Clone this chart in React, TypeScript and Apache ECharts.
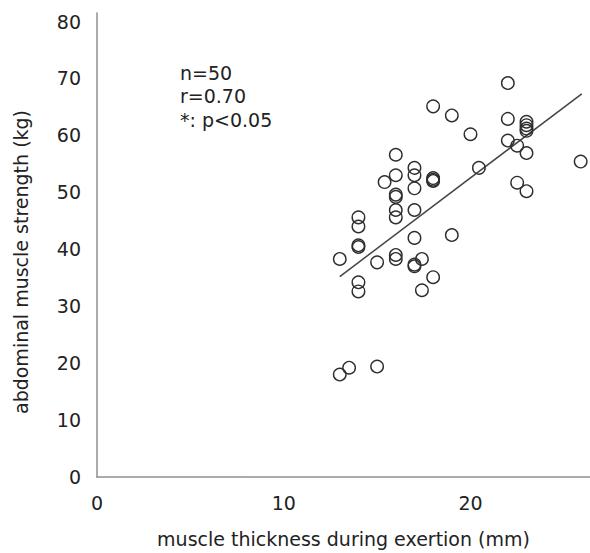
import React, { useEffect, useRef } from "react";
import * as echarts from "echarts";

// muscle thickness during exertion (mm)
const thickness = [
  13, 13, 13.5, 15, 15,
  14, 14, 14, 14, 14, 14,
  15.4,
  16, 16, 16, 16, 16, 16, 16, 16,
  17, 17, 17, 17, 17, 17, 17,
  17.4, 17.4,
  18, 18, 18, 18, 18,
  19, 19,
  20, 20.45,
  22, 22, 22,
  22.5, 22.5,
  23, 23, 23, 23, 23, 23,
  25.9,
];
// abdominal muscle strength (kg)
const strength = [
  38.3, 18.0, 19.2, 19.4, 37.7,
  45.6, 44.0, 40.7, 40.4, 34.2, 32.6,
  51.8,
  56.6, 53.0, 49.6, 49.2, 46.9, 45.6, 39.0, 38.3,
  54.3, 53.0, 50.7, 46.9, 42.0, 37.3, 37.0,
  38.3, 32.8,
  52.5, 52.2, 52.0, 35.1, 65.1,
  63.5, 42.5,
  60.2, 54.3,
  69.2, 62.9, 59.1,
  58.2, 51.7,
  62.4, 61.8, 61.2, 60.8, 56.9, 50.2,
  55.4,
];
// regression line end points
const regressionX = [13, 25.96];
const regressionY = [35.2, 67.3];

const statsLines = ["n=50", "r=0.70", "*: p<0.05"];
const xTitle = "muscle thickness during exertion (mm)";
const yTitle = "abdominal muscle strength (kg)";

const FONT = "DejaVu Sans";

export default function App() {
  const ref = useRef<HTMLDivElement>(null);

  useEffect(() => {
    if (!ref.current) return;
    const chart = echarts.init(ref.current, undefined, { renderer: "svg" });
    const points = thickness.map((x, i) => [x, strength[i]]);
    const line = regressionX.map((x, i) => [x, regressionY[i]]);
    chart.setOption({
      animation: false,
      backgroundColor: "#ffffff",
      grid: { left: 97, top: 13, right: 0, bottom: 75, containLabel: false },
      xAxis: {
        type: "value",
        min: 0,
        max: 26.4,
        interval: 10,
        name: xTitle,
        nameLocation: "middle",
        nameGap: 52,
        nameTextStyle: { fontFamily: FONT, fontSize: 19, color: "#222" },
        axisLine: { show: true, lineStyle: { color: "#8f8f8f", width: 1.5 } },
        axisTick: { show: false },
        splitLine: { show: false },
        axisLabel: {
          showMaxLabel: false,
          margin: 16,
          fontFamily: FONT,
          fontSize: 19,
          color: "#222",
        },
      },
      yAxis: {
        type: "value",
        min: 0,
        max: 81.5,
        interval: 10,
        axisLine: { show: true, lineStyle: { color: "#8f8f8f", width: 1.5 } },
        axisTick: { show: false },
        splitLine: { show: false },
        axisLabel: {
          showMaxLabel: false,
          margin: 16,
          fontFamily: FONT,
          fontSize: 19,
          color: "#222",
        },
      },
      graphic: [
        {
          type: "text",
          x: 21,
          y: 262,
          rotation: Math.PI / 2,
          style: {
            text: yTitle,
            fontFamily: FONT,
            fontSize: 19,
            fill: "#222",
            align: "center",
            verticalAlign: "middle",
          },
        },
        {
          type: "text",
          left: 180,
          top: 61,
          style: {
            text: statsLines.join("\n"),
            fontFamily: FONT,
            fontSize: 19,
            lineHeight: 23.5,
            fill: "#222",
          },
        },
      ],
      series: [
        {
          type: "line",
          data: line,
          symbol: "none",
          lineStyle: { color: "#444", width: 1.5 },
          z: 2,
        },
        {
          type: "scatter",
          data: points,
          symbol: "circle",
          symbolSize: 12.5,
          itemStyle: {
            color: "rgba(255,255,255,0)",
            borderColor: "#2e2e2e",
            borderWidth: 1.4,
            opacity: 1,
          },
          z: 3,
        },
      ],
    });
    return () => chart.dispose();
  }, []);

  return (
    <div
      ref={ref}
      style={{ position: "fixed", left: 0, top: 0, width: 590, height: 553 }}
    />
  );
}
